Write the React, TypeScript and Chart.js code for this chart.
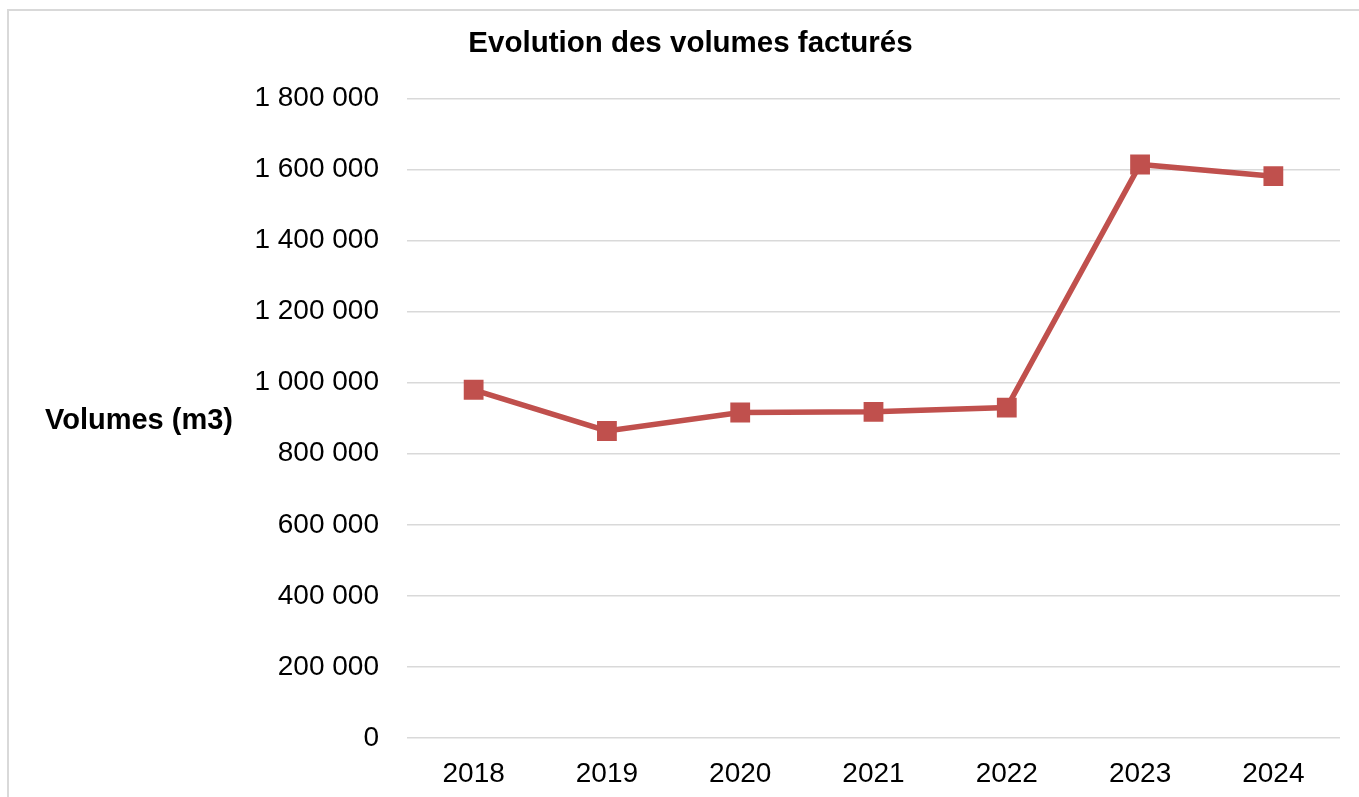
import React, { useEffect, useRef } from "react";
import { Chart, registerables } from "chart.js";

Chart.register(...registerables);

const years = ["2018", "2019", "2020", "2021", "2022", "2023", "2024"];
const volumes = [980000, 864000, 916000, 918000, 930000, 1614000, 1581000];
const chartTitle = "Evolution des volumes facturés";
const yAxisTitle = "Volumes (m3)";

const FONT = "'Liberation Sans', Arial, sans-serif";

const fmt = (v: number) => String(v).replace(/\B(?=(\d{3})+(?!\d))/g, " ");

const decorPlugin = {
  id: "decor",
  beforeDraw(chart: any) {
    const ctx = chart.ctx;
    ctx.save();
    ctx.fillStyle = "#ffffff";
    ctx.fillRect(0, 0, chart.width, chart.height);
    ctx.fillStyle = "#d9d9d9";
    ctx.fillRect(7, 9, 2, chart.height - 9);
    ctx.fillRect(7, 9, chart.width - 7, 2);
    ctx.restore();
  },
  afterDraw(chart: any) {
    const ctx = chart.ctx;
    const a = chart.chartArea;
    ctx.save();
    ctx.font = `bold 29px ${FONT}`;
    ctx.fillStyle = "#000000";
    ctx.textAlign = "left";
    ctx.textBaseline = "middle";
    ctx.fillText(yAxisTitle, 45, (a.top + a.bottom) / 2 + 3);
    ctx.restore();
  },
};

export default function App() {
  const ref = useRef<HTMLCanvasElement>(null);
  useEffect(() => {
    if (!ref.current) return;
    const chart = new Chart(ref.current, {
      type: "line",
      data: {
        labels: years,
        datasets: [
          {
            data: volumes,
            borderColor: "#C0504D",
            backgroundColor: "#C0504D",
            borderWidth: 5.5,
            pointStyle: "rect",
            pointRadius: 14,
            pointHoverRadius: 14,
            pointBorderWidth: 0,
            pointBackgroundColor: "#C0504D",
            tension: 0,
          },
        ],
      },
      options: {
        animation: false,
        responsive: false,
        maintainAspectRatio: false,
        layout: { padding: { left: 41, right: 19, top: 0, bottom: 0 } },
        plugins: {
          legend: { display: false },
          tooltip: { enabled: false },
          title: {
            display: true,
            text: chartTitle,
            color: "#000000",
            font: { family: FONT, size: 29.5, weight: "bold" },
            padding: { top: 26, bottom: 37 },
          },
        },
        scales: {
          x: {
            offset: true,
            afterFit: (scale: any) => {
              scale.height = 59;
            },
            grid: { display: false, drawTicks: false },
            border: { display: false },
            ticks: {
              color: "#000000",
              font: { family: FONT, size: 28 },
              padding: 19,
              maxRotation: 0,
            },
          },
          y: {
            min: 0,
            max: 1800000,
            afterFit: (scale: any) => {
              scale.width = 366;
            },
            grid: { color: "#d9d9d9", lineWidth: 1.5, drawTicks: false },
            border: { display: false },
            ticks: {
              stepSize: 200000,
              color: "#000000",
              font: { family: FONT, size: 28 },
              padding: 28,
              callback: (v: any) => fmt(Number(v)),
            },
          },
        },
      },
      plugins: [decorPlugin],
    });
    return () => chart.destroy();
  }, []);
  return (
    <div style={{ position: "fixed", left: 0, top: 0, width: 1359, height: 797 }}>
      <canvas ref={ref} width={1359} height={797} style={{ display: "block", width: 1359, height: 797 }} />
    </div>
  );
}
